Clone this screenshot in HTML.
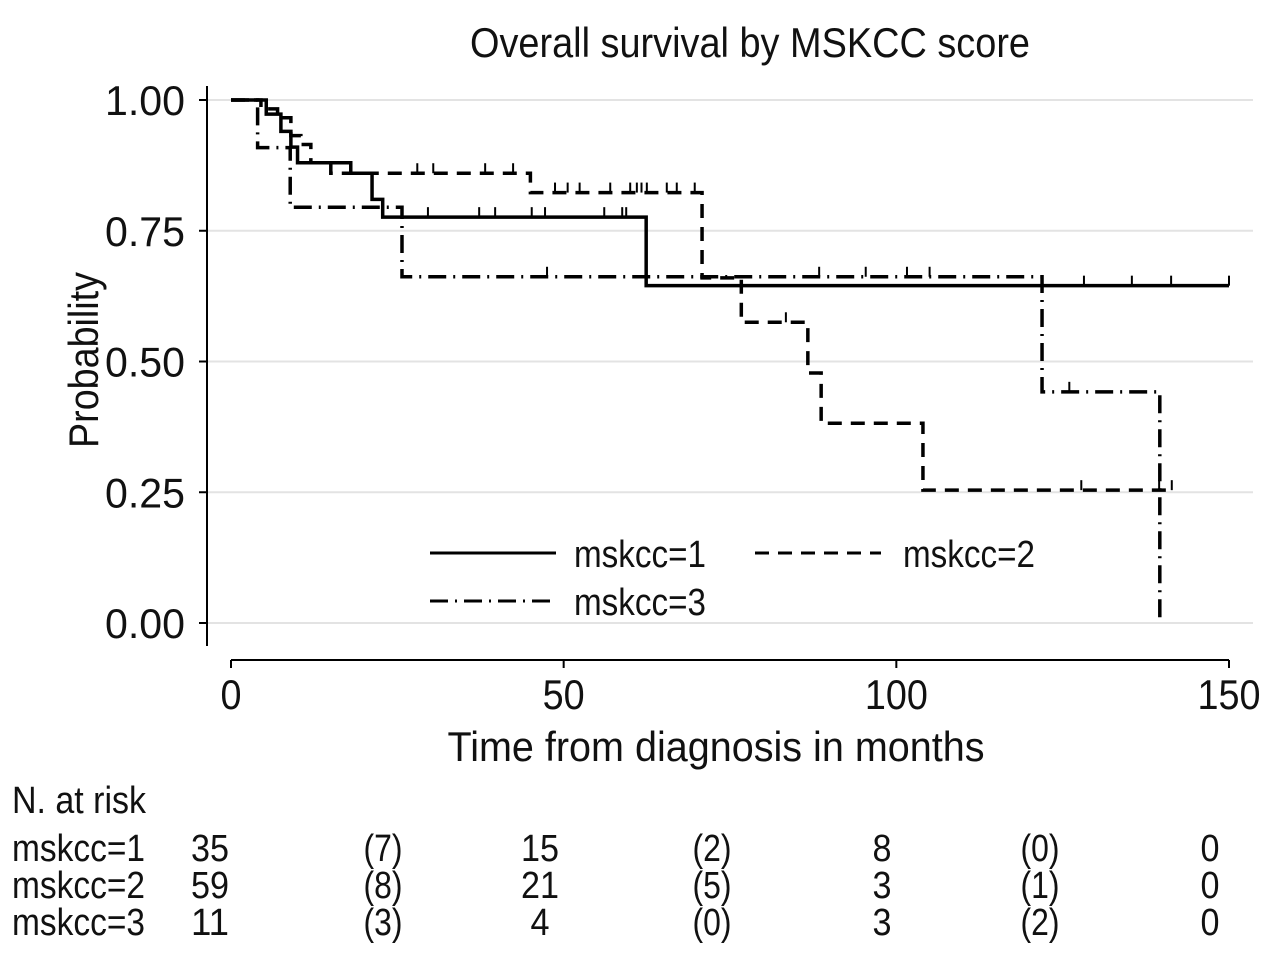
<!DOCTYPE html>
<html><head><meta charset="utf-8">
<style>
html,body{margin:0;padding:0;background:#fff;}
svg{display:block;}
text{font-family:"Liberation Sans Narrow","Liberation Sans",sans-serif;fill:#111;}
</style></head>
<body>
<svg id="chart" width="1280" height="962" viewBox="0 0 1280 962" xmlns="http://www.w3.org/2000/svg">
<rect width="1280" height="962" fill="#fff"/>
<text x="750" y="57" font-size="42" text-anchor="middle" textLength="560" lengthAdjust="spacingAndGlyphs">Overall survival by MSKCC score</text>
<g id="grid"></g>
<g id="axes"></g>
<g id="series"></g>
<g id="legend">
  <line x1="430" y1="553" x2="556" y2="553" stroke="#000" stroke-width="3"/>
  <text x="574" y="567" font-size="38" textLength="132" lengthAdjust="spacingAndGlyphs">mskcc=1</text>
  <line x1="755" y1="553" x2="881" y2="553" stroke="#000" stroke-width="3" stroke-dasharray="14,9"/>
  <text x="903" y="567" font-size="38" textLength="132" lengthAdjust="spacingAndGlyphs">mskcc=2</text>
  <line x1="430" y1="601" x2="556" y2="601" stroke="#000" stroke-width="3" stroke-dasharray="18,7,2,7"/>
  <text x="574" y="615" font-size="38" textLength="132" lengthAdjust="spacingAndGlyphs">mskcc=3</text>
</g>
<text x="716" y="761" font-size="42" text-anchor="middle" textLength="537" lengthAdjust="spacingAndGlyphs">Time from diagnosis in months</text>
<text x="0" y="0" font-size="42" text-anchor="middle" textLength="176" lengthAdjust="spacingAndGlyphs" transform="translate(98,360) rotate(-90)">Probability</text>
<g id="risk"></g>
</svg>
<script>
const xTicks=[0,50,100,150];
const yTicks=[0,0.25,0.5,0.75,1];
const yTickLabels=["0.00","0.25","0.50","0.75","1.00"];
const s1Times=[0,5.3,7.5,9,10,18,21.2,22.8,62.4,150];
const s1Surv=[1,0.973,0.94,0.91,0.88,0.86,0.81,0.776,0.645,0.645];
const s2Times=[0,4.5,7,9,10.5,12,15,45,70.8,76.7,86.7,88.7,104,141.4];
const s2Surv=[1,0.983,0.966,0.932,0.915,0.88,0.86,0.823,0.66,0.575,0.478,0.382,0.254,0.254];
const s3Times=[0,4,8.9,25.7,121.9,139.6,139.6];
const s3Surv=[1,0.909,0.795,0.662,0.442,0.01,0.01];
const s1Cens=[29.6,37.3,39.7,45.2,47.2,56.1,58.8,59.4,128.2,135.4,141.3,150];
const s2Cens=[28,30.4,38.2,42.4,48.7,50.6,52.4,57,60,61,61.7,62.5,65.5,67,69.7,83.4,127.8,139.5,141.4];
const s3Cens=[47.5,88.4,95.4,101.6,105,126];
const risk1=["35","(7)","15","(2)","8","(0)","0"];
const risk2=["59","(8)","21","(5)","3","(1)","0"];
const risk3=["11","(3)","4","(0)","3","(2)","0"];

const NS="http://www.w3.org/2000/svg";
const X=t=>231+t*(998/150);
const Y=p=>623-p*523;
function mk(tag,attrs,parent){const e=document.createElementNS(NS,tag);for(const k in attrs)e.setAttribute(k,attrs[k]);parent.appendChild(e);return e;}
function tw(s,d,p){let w=0;for(const c of s){w+=(c==='('||c===')')?p:(c==='.'?9:d);}return w;}
const grid=document.getElementById('grid'),axes=document.getElementById('axes'),series=document.getElementById('series'),risk=document.getElementById('risk');
yTicks.forEach((v,i)=>{
  const g=mk('line',{x1:207,x2:1253,y1:Y(v),y2:Y(v),stroke:'#e3e3e3','stroke-width':2},grid);
  
  
  const tk=mk('line',{x1:199,x2:207,y1:Y(v),y2:Y(v),stroke:'#000','stroke-width':2},axes);
  
  
  const t=mk('text',{x:185,y:Y(v)+15,'font-size':42,'text-anchor':'end',textLength:80,lengthAdjust:'spacingAndGlyphs'},axes);
  t.textContent=yTickLabels[i];
  
  
});
const ya=mk('line',{x1:207,x2:207,y1:86,y2:646,stroke:'#000','stroke-width':2},axes);


const xa=mk('line',{x1:X(0),x2:X(150),y1:660,y2:660,stroke:'#000','stroke-width':2},axes);


xTicks.forEach(v=>{
  const tk=mk('line',{x1:X(v),x2:X(v),y1:660,y2:668,stroke:'#000','stroke-width':2},axes);
  
  
  const s=String(v);
  const t=mk('text',{x:X(v),y:709,'font-size':42,'text-anchor':'middle',textLength:s.length*21,lengthAdjust:'spacingAndGlyphs'},axes);
  t.textContent=s;
  
  
});
function levelAt(times,surv,t){let p=surv[0];for(let i=0;i<times.length;i++){if(times[i]<=t)p=surv[i];}return p;}
function drawKM(times,surv,cens,dash,name){
  let d='M'+X(times[0])+','+Y(surv[0]);
  for(let i=1;i<times.length;i++){d+=' H'+X(times[i])+' V'+Y(surv[i]);}
  const p=mk('path',{d:d,fill:'none',stroke:'#000','stroke-width':3.5},series);
  if(dash)p.setAttribute('stroke-dasharray',dash);
  
  
  cens.forEach(c=>{
    const y=Y(levelAt(times,surv,c));
    const m=mk('line',{x1:X(c),x2:X(c),y1:y,y2:y-10,stroke:'#000','stroke-width':2},series);
    
    
  });
}
drawKM(s1Times,s1Surv,s1Cens,null,'mskcc1');
drawKM(s2Times,s2Surv,s2Cens,'14,9','mskcc2');
drawKM(s3Times,s3Surv,s3Cens,'18,7,2,7','mskcc3');

const h=mk('text',{x:12,y:813,'font-size':38,textLength:134,lengthAdjust:'spacingAndGlyphs'},risk);
h.textContent='N. at risk';


const rows=[risk1,risk2,risk3],names=['mskcc=1','mskcc=2','mskcc=3'],rowY=[861,898,935];
const colX=[210,383,540,712,882,1040,1210];
rows.forEach((r,ri)=>{
  const l=mk('text',{x:12,y:rowY[ri],'font-size':38,textLength:133,lengthAdjust:'spacingAndGlyphs'},risk);
  l.textContent=names[ri];
  
  
  r.forEach((v,ci)=>{
    const t=mk('text',{x:colX[ci],y:rowY[ri],'font-size':38,'text-anchor':'middle',textLength:tw(v,19,10),lengthAdjust:'spacingAndGlyphs'},risk);
    t.textContent=v;
    
    
  });
});
</script>
</body></html>
